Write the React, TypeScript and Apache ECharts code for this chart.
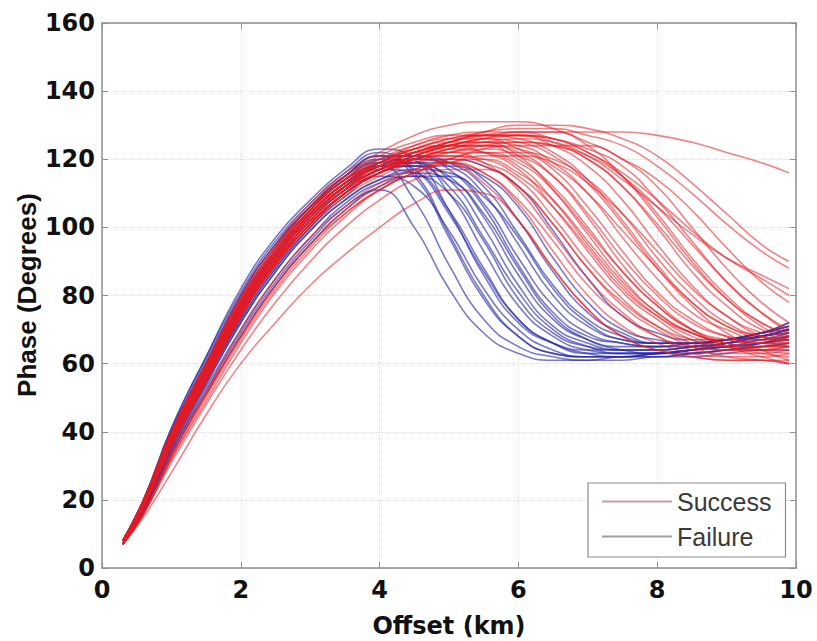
import React, { useEffect, useRef } from "react";
import * as echarts from "echarts";

// Offset sample positions (km)
const offsets = [0.3, 0.6, 1, 1.5, 2, 2.5, 3, 3.5, 4, 4.5, 5, 5.5, 6, 6.5, 7, 7.5, 8, 8.5, 9, 9.5, 9.9];

const xTicks = [0, 2, 4, 6, 8, 10];
const yTicks = [0, 20, 40, 60, 80, 100, 120, 140, 160];

// Failure curves (phase in degrees at each offset)
const failureCurves: number[][] = [
  [7, 17, 33, 51, 68, 83, 95, 105, 111, 100, 82, 69, 63, 61, 61, 61, 62, 62, 63, 64, 64],
  [8, 19, 38, 58, 77, 92, 104, 113, 118, 108, 89, 73, 65, 62, 61, 62, 62, 63, 64, 65, 66],
  [8, 20, 40, 61, 80, 95, 106, 115, 121, 115, 97, 79, 68, 63, 62, 62, 63, 64, 65, 66, 67],
  [7, 18, 36, 55, 73, 88, 100, 109, 115, 112, 99, 82, 70, 64, 62, 62, 63, 64, 65, 66, 68],
  [8, 20, 41, 62, 82, 97, 108, 117, 123, 120, 105, 86, 72, 66, 64, 64, 64, 65, 66, 68, 70],
  [7, 18, 37, 56, 75, 90, 102, 111, 117, 116, 105, 88, 73, 66, 63, 63, 63, 64, 65, 66, 67],
  [8, 19, 39, 59, 78, 93, 105, 114, 119, 119, 110, 93, 77, 68, 64, 63, 63, 64, 66, 68, 70],
  [7, 17, 34, 53, 70, 85, 97, 107, 113, 115, 110, 96, 79, 69, 65, 64, 64, 65, 66, 68, 69],
  [8, 19, 38, 57, 76, 91, 103, 112, 118, 119, 114, 100, 83, 71, 66, 64, 64, 65, 67, 69, 71],
  [7, 18, 36, 55, 73, 88, 100, 110, 116, 118, 115, 103, 86, 73, 67, 65, 65, 66, 67, 69, 70],
  [8, 20, 40, 60, 79, 94, 106, 115, 121, 121, 117, 106, 89, 75, 68, 66, 65, 66, 67, 69, 72],
  [7, 18, 35, 54, 72, 87, 99, 108, 114, 117, 116, 107, 91, 77, 69, 66, 65, 65, 66, 68, 69],
  [8, 19, 38, 58, 77, 92, 104, 113, 119, 120, 118, 110, 95, 80, 71, 67, 66, 66, 67, 69, 71],
  [7, 17, 34, 52, 69, 84, 96, 106, 112, 115, 115, 109, 97, 82, 72, 67, 66, 66, 67, 68, 70],
  [8, 19, 37, 57, 75, 90, 102, 111, 117, 119, 119, 114, 102, 87, 75, 69, 66, 66, 67, 69, 72],
  [7, 18, 36, 55, 74, 89, 101, 110, 116, 118, 118, 115, 106, 91, 78, 70, 67, 66, 67, 68, 70],
  [8, 19, 38, 58, 77, 92, 103, 112, 118, 120, 120, 118, 112, 99, 85, 74, 69, 67, 67, 68, 70],
  [8, 20, 41, 62, 81, 96, 107, 116, 122, 116, 98, 80, 68, 63, 62, 62, 63, 63, 64, 65, 66],
  [8, 20, 40, 60, 80, 95, 106, 115, 120, 117, 104, 87, 73, 66, 63, 62, 62, 63, 64, 66, 68],
  [7, 18, 37, 57, 76, 91, 103, 112, 118, 118, 112, 97, 81, 70, 65, 63, 63, 64, 66, 67, 69],
  [8, 19, 39, 59, 78, 93, 105, 114, 120, 121, 119, 112, 98, 83, 73, 68, 66, 66, 67, 69, 71],
  [7, 17, 35, 54, 72, 87, 99, 108, 114, 116, 114, 104, 88, 74, 67, 64, 63, 64, 65, 67, 68],
];

// Success curves (phase in degrees at each offset)
const successCurves: number[][] = [
  [8, 19, 38, 57, 76, 91, 103, 112, 117, 120, 119, 113, 102, 88, 76, 68, 64, 62, 61, 61, 61],
  [7, 17, 34, 52, 70, 85, 97, 106, 113, 117, 119, 116, 107, 93, 80, 71, 66, 63, 62, 62, 63],
  [8, 19, 39, 59, 78, 93, 105, 114, 119, 122, 122, 119, 111, 98, 85, 75, 68, 64, 63, 63, 64],
  [7, 18, 37, 56, 75, 90, 102, 111, 117, 120, 121, 119, 114, 103, 90, 79, 71, 66, 64, 64, 65],
  [8, 20, 40, 60, 79, 94, 106, 115, 120, 123, 124, 122, 117, 106, 93, 81, 73, 67, 65, 65, 66],
  [7, 16, 32, 50, 67, 82, 94, 104, 111, 116, 119, 120, 116, 108, 96, 84, 75, 69, 66, 65, 65],
  [8, 19, 38, 58, 77, 92, 104, 113, 118, 122, 124, 124, 120, 112, 100, 87, 77, 70, 67, 66, 66],
  [7, 18, 36, 55, 74, 89, 101, 110, 116, 120, 122, 123, 121, 115, 104, 91, 80, 72, 68, 66, 66],
  [8, 19, 39, 59, 78, 93, 105, 114, 120, 124, 126, 126, 123, 117, 106, 93, 81, 73, 68, 66, 65],
  [7, 18, 37, 56, 75, 90, 102, 111, 117, 121, 124, 125, 124, 119, 110, 97, 85, 75, 70, 67, 67],
  [8, 20, 40, 60, 79, 94, 106, 115, 121, 125, 127, 127, 126, 122, 114, 102, 89, 78, 71, 68, 67],
  [7, 16, 33, 51, 68, 83, 95, 105, 112, 117, 120, 122, 122, 120, 114, 104, 91, 80, 72, 68, 67],
  [8, 19, 38, 58, 77, 92, 104, 113, 119, 123, 126, 127, 127, 124, 118, 108, 95, 83, 74, 69, 67],
  [7, 18, 36, 55, 74, 89, 101, 110, 116, 120, 123, 125, 125, 124, 120, 112, 100, 87, 77, 70, 68],
  [8, 19, 39, 59, 78, 93, 105, 114, 119, 124, 127, 128, 128, 126, 122, 115, 104, 91, 80, 72, 69],
  [7, 18, 37, 56, 75, 90, 102, 111, 117, 121, 124, 126, 127, 126, 123, 118, 108, 96, 84, 75, 70],
  [8, 19, 38, 57, 76, 91, 103, 112, 118, 122, 125, 127, 128, 128, 125, 120, 112, 100, 88, 78, 72],
  [7, 16, 32, 49, 66, 81, 93, 103, 111, 116, 120, 123, 124, 124, 124, 120, 114, 105, 94, 84, 78],
  [8, 19, 38, 58, 77, 92, 104, 113, 119, 123, 126, 128, 129, 129, 127, 124, 118, 110, 101, 93, 88],
  [7, 18, 36, 55, 74, 89, 101, 110, 116, 121, 125, 128, 130, 130, 129, 126, 121, 113, 104, 95, 90],
  [8, 19, 38, 57, 76, 91, 103, 112, 117, 121, 124, 126, 128, 128, 128, 128, 127, 125, 122, 119, 116],
  [8, 20, 40, 60, 80, 95, 107, 116, 122, 127, 130, 131, 131, 129, 124, 115, 103, 90, 79, 72, 68],
  [7, 15, 28, 45, 60, 72, 83, 92, 100, 107, 111, 110, 102, 88, 76, 68, 64, 62, 61, 61, 60],
  [7, 16, 31, 48, 64, 78, 90, 100, 108, 114, 117, 117, 112, 101, 88, 77, 70, 65, 62, 61, 60],
  [8, 18, 36, 55, 74, 89, 101, 110, 116, 120, 123, 124, 122, 115, 103, 89, 78, 70, 65, 62, 60],
  [7, 18, 37, 57, 76, 91, 103, 112, 118, 122, 124, 126, 125, 121, 113, 101, 88, 77, 69, 64, 61],
  [8, 19, 38, 58, 77, 92, 104, 113, 118, 122, 125, 127, 127, 126, 122, 116, 108, 99, 91, 85, 80],
  [7, 18, 36, 55, 74, 89, 101, 110, 116, 120, 123, 125, 126, 125, 121, 114, 106, 98, 91, 86, 82],
  [8, 19, 39, 59, 78, 93, 105, 114, 118, 120, 119, 116, 108, 96, 83, 74, 68, 65, 64, 64, 65],
  [7, 18, 37, 56, 75, 90, 102, 111, 117, 120, 121, 120, 115, 106, 94, 82, 74, 69, 67, 67, 68],
  [8, 19, 38, 58, 77, 92, 104, 113, 119, 123, 125, 125, 121, 111, 98, 85, 75, 69, 66, 65, 65],
  [7, 18, 37, 56, 75, 90, 101, 110, 116, 120, 122, 122, 119, 111, 99, 87, 77, 70, 66, 64, 63],
  [8, 20, 40, 60, 79, 94, 105, 114, 119, 122, 124, 124, 123, 118, 110, 99, 88, 78, 71, 67, 65],
  [7, 16, 33, 51, 68, 83, 95, 104, 111, 116, 119, 121, 121, 119, 113, 104, 93, 82, 74, 68, 66],
  [8, 19, 39, 59, 78, 93, 104, 113, 118, 122, 125, 127, 127, 125, 120, 112, 101, 89, 79, 71, 67],
  [7, 18, 36, 55, 74, 89, 100, 109, 115, 119, 122, 124, 125, 124, 121, 115, 106, 95, 84, 75, 69],
  [8, 19, 38, 57, 76, 91, 103, 112, 117, 121, 123, 122, 118, 108, 95, 83, 74, 68, 65, 63, 62],
  [7, 18, 37, 56, 75, 90, 102, 111, 116, 119, 120, 118, 112, 101, 88, 78, 71, 67, 65, 64, 64],
];

const SUCCESS = "Success";
const FAILURE = "Failure";

export default function App() {
  const ref = useRef<HTMLDivElement>(null);

  useEffect(() => {
    if (!ref.current) return;
    const chart = echarts.init(ref.current, undefined, { renderer: "svg" });

    const mk = (name: string, vals: number[], color: string) => ({
      type: "line",
      name,
      data: offsets.map((x, i) => [x, vals[i]]),
      smooth: 0.5,
      symbol: "none",
      silent: true,
      lineStyle: { color, width: 1.6 },
      itemStyle: { color },
    });

    const series: any[] = [
      ...failureCurves.map((c) => mk(FAILURE, c, "rgba(38,40,165,0.62)")),
      ...successCurves.map((c) => mk(SUCCESS, c, "rgba(230,28,34,0.55)")),
    ];

    const axisGray = "#8e8e8e";
    const tickFont = {
      fontFamily: "DejaVu Sans",
      fontWeight: "bold" as const,
      fontSize: 24,
      color: "#111",
    };

    chart.setOption({
      animation: false,
      backgroundColor: "#fff",
      grid: { left: 102, right: 21, top: 23, bottom: 73, containLabel: false },
      xAxis: [
        {
          type: "value",
          min: 0,
          max: 10,
          interval: 2,
          axisLine: { show: true, lineStyle: { color: axisGray, width: 1.5 } },
          axisTick: { show: true, inside: true, length: 6, lineStyle: { color: axisGray } },
          axisLabel: { ...tickFont, margin: 10, formatter: (v: number) => (xTicks.includes(v) ? String(v) : "") },
          splitLine: { show: true, lineStyle: { color: "#dcdcdc", type: "dotted", width: 1 } },
        },
        {
          type: "value",
          position: "top",
          min: 0,
          max: 10,
          interval: 2,
          axisLine: { show: true, onZero: false, lineStyle: { color: axisGray, width: 1.5 } },
          axisTick: { show: true, inside: true, length: 6, lineStyle: { color: axisGray } },
          axisLabel: { show: false },
          splitLine: { show: false },
        },
      ],
      yAxis: [
        {
          type: "value",
          min: 0,
          max: 160,
          interval: 20,
          axisLine: { show: true, lineStyle: { color: axisGray, width: 1.5 } },
          axisTick: { show: true, inside: true, length: 6, lineStyle: { color: axisGray } },
          axisLabel: { ...tickFont, margin: 7, formatter: (v: number) => (yTicks.includes(v) ? String(v) : "") },
          splitLine: { show: true, lineStyle: { color: "#dcdcdc", type: "dotted", width: 1 } },
        },
        {
          type: "value",
          position: "right",
          min: 0,
          max: 160,
          interval: 20,
          axisLine: { show: true, onZero: false, lineStyle: { color: axisGray, width: 1.5 } },
          axisTick: { show: true, inside: true, length: 6, lineStyle: { color: axisGray } },
          axisLabel: { show: false },
          splitLine: { show: false },
        },
      ],
      legend: {
        left: 588,
        top: 483,
        orient: "vertical",
        itemWidth: 70,
        itemHeight: 20,
        itemGap: 10,
        padding: [6, 14, 8, 14],
        borderColor: "#8c8c8c",
        borderWidth: 1.2,
        backgroundColor: "#fff",
        selectedMode: false,
        textStyle: { fontFamily: "Liberation Sans", fontSize: 25, color: "#3a3a3a" },
        data: [
          { name: SUCCESS, icon: "path://M0,0H70V2H0Z", itemStyle: { color: "#c79c9c" } },
          { name: FAILURE, icon: "path://M0,0H70V2H0Z", itemStyle: { color: "#9c9cba" } },
        ],
      },
      graphic: [
        {
          type: "text",
          x: 449,
          y: 626,
          style: {
            text: "Offset (km)",
            fontFamily: "DejaVu Sans",
            fontWeight: "bold",
            fontSize: 24,
            fill: "#111",
            align: "center",
            verticalAlign: "middle",
          },
        },
        {
          type: "text",
          x: 27,
          y: 295,
          rotation: Math.PI / 2,
          style: {
            text: "Phase (Degrees)",
            fontFamily: "Liberation Sans",
            fontWeight: "bold",
            fontSize: 26,
            fill: "#111",
            align: "center",
            verticalAlign: "middle",
          },
        },
      ],
      series,
    });

    return () => chart.dispose();
  }, []);

  return <div ref={ref} style={{ width: 817, height: 641, position: "absolute", left: 0, top: 0 }} />;
}
